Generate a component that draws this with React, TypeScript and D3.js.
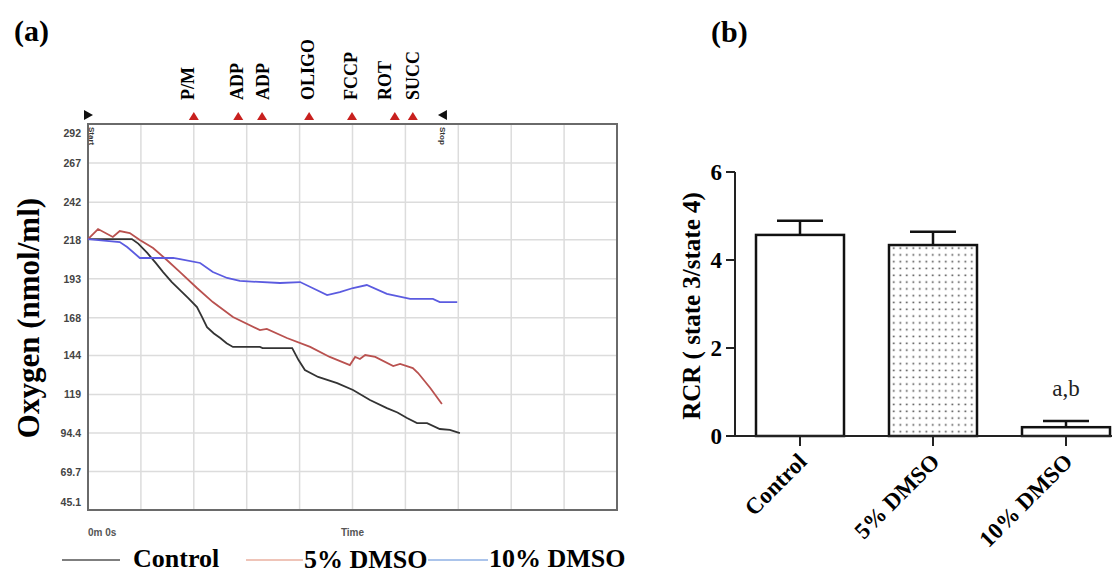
import * as d3 from "d3";

// ---- panel (a): oxygen trace data [time in grid units, nmol/ml] ----
const controlTrace: [number, number][] = [
  [0, 218.4], [0.83, 218.4], [0.95, 215.5], [1.12, 209.5], [1.28, 203.2], [1.42, 197.3],
  [1.58, 191.0], [1.74, 185.8], [1.9, 180.5], [2.06, 174.9], [2.15, 169.0], [2.25, 162.1],
  [2.38, 158.0], [2.5, 155.1], [2.62, 151.8], [2.74, 149.4], [3.25, 149.4], [3.3, 148.7],
  [3.86, 148.7], [3.98, 141.0], [4.1, 134.6], [4.35, 130.2], [4.71, 126.3], [5.01, 121.9],
  [5.33, 115.5], [5.65, 110.3], [5.85, 107.5], [6.03, 103.9], [6.22, 100.7], [6.41, 100.7],
  [6.65, 96.9], [6.84, 96.3], [7.03, 94.3],
];
const dmso5Trace: [number, number][] = [
  [0, 218.4], [0.19, 224.8], [0.47, 219.7], [0.6, 223.5], [0.79, 222.2], [0.98, 217.8],
  [1.23, 212.7], [1.49, 205.0], [1.74, 197.3], [2.06, 187.1], [2.36, 178.1], [2.74, 168.5],
  [3.25, 160.2], [3.38, 160.9], [3.76, 155.1], [4.2, 149.4], [4.57, 143.0], [4.95, 137.8],
  [5.05, 143.0], [5.14, 141.7], [5.24, 144.2], [5.43, 143.0], [5.77, 137.2], [5.9, 138.5],
  [6.14, 135.9], [6.24, 132.7], [6.47, 123.1], [6.69, 112.9],
];
const dmso10Trace: [number, number][] = [
  [0, 218.4], [0.6, 216.5], [0.74, 213.3], [0.98, 206.3], [1.61, 206.3], [1.74, 205.6],
  [2.12, 203.1], [2.36, 197.3], [2.63, 193.5], [2.87, 191.6], [3.63, 190.3], [4.01, 190.9],
  [4.52, 182.6], [4.76, 184.5], [5.01, 187.1], [5.27, 189.0], [5.65, 183.3], [6.09, 180.1],
  [6.52, 180.1], [6.65, 178.1], [6.98, 178.1],
];
const oxygenTicks = [292, 267, 242, 218, 193, 168, 144, 119, 94.4, 69.7, 45.1];
const injectionNames = ["P/M", "ADP", "ADP", "OLIGO", "FCCP", "ROT", "SUCC"];
const injectionTimes = [2.0, 2.84, 3.29, 4.18, 4.99, 5.8, 6.14];
const injectionLabelTimes = [1.89, 2.82, 3.31, 4.16, 4.97, 5.61, 6.14];
const startTime = 0;
const stopTime = 6.71;
const legendNames = ["Control", "5% DMSO", "10% DMSO"];

// ---- panel (b): respiratory control ratio ----
const groups = ["Control", "5% DMSO", "10% DMSO"];
const rcrMean = [4.57, 4.34, 0.2];
const rcrSem = [0.32, 0.3, 0.14];
const rcrTicks = [0, 2, 4, 6];

const serif = "'Liberation Serif', 'DejaVu Serif', serif";
const sans = "'Liberation Sans', Arial, sans-serif";

const left = 88;
const right = 617;
const top = 124;
const bottom = 510;

export default function App() {
  const x = d3.scaleLinear().domain([0, 10]).range([left, right]);
  const y = d3.scaleLinear().domain([45.1, 292]).range([bottom, top]);
  const line = d3
    .line<[number, number]>()
    .x((d) => x(d[0]))
    .y((d) => y(d[1]));

  const traces = [
    { data: controlTrace, color: "#333333", legend: "#555555" },
    { data: dmso5Trace, color: "#b9514f", legend: "#eab0a0" },
    { data: dmso10Trace, color: "#5b5be0", legend: "#8fb0e4" },
  ];

  // bar chart scales
  const bx = d3.scalePoint<string>().domain(groups).range([800, 1066]);
  const by = d3.scaleLinear().domain([0, 6]).range([436, 172]);
  const barW = 88;

  const tri = (cx: number, cy: number, dir: string) => {
    if (dir === "up") return `M${cx - 5},${cy + 4}L${cx + 5},${cy + 4}L${cx},${cy - 4}Z`;
    if (dir === "right") return `M${cx - 4},${cy - 5}L${cx - 4},${cy + 5}L${cx + 5},${cy}Z`;
    return `M${cx + 4},${cy - 5}L${cx + 4},${cy + 5}L${cx - 5},${cy}Z`;
  };

  return (
    <svg
      width={1120}
      height={575}
      viewBox="0 0 1120 575"
      style={{ position: "absolute", left: 0, top: 0, background: "#fff" }}
    >
      <defs>
        <pattern id="dots" width={6.5} height={6.8} patternUnits="userSpaceOnUse">
          <rect x={2.5} y={2.5} width={1.6} height={1.6} fill="#444" />
        </pattern>
      </defs>

      {/* ---------- panel (a) ---------- */}
      <text x={14} y={41} fontFamily={serif} fontWeight="bold" fontSize={30}>
        (a)
      </text>

      {/* grid */}
      <g stroke="#dcdcdc" strokeWidth={1.5}>
        {d3.range(1, 10).map((i) => (
          <line key={"v" + i} x1={x(i)} x2={x(i)} y1={top} y2={bottom} />
        ))}
        {oxygenTicks.slice(1, -1).map((t) => (
          <line key={"h" + t} x1={left} x2={right} y1={y(t)} y2={y(t)} />
        ))}
      </g>
      <rect
        x={left}
        y={top}
        width={right - left}
        height={bottom - top}
        fill="none"
        stroke="#6a6a6a"
        strokeWidth={2}
      />

      {/* y tick labels */}
      <g fontFamily={sans} fontWeight="bold" fontSize={10.5} fill="#444" textAnchor="end">
        {oxygenTicks.map((t, i) => {
          let yy = y(t) + 4;
          if (i === 0) yy = top + 13;
          if (i === oxygenTicks.length - 1) yy = bottom - 4;
          return (
            <text key={t} x={81} y={yy}>
              {t}
            </text>
          );
        })}
      </g>
      <text
        transform={`translate(39,${(top + bottom) / 2 + 1}) rotate(-90)`}
        textAnchor="middle"
        fontFamily={serif}
        fontWeight="bold"
        fontSize={31}
      >
        Oxygen (nmol/ml)
      </text>
      <text x={left} y={536} fontFamily={sans} fontWeight="bold" fontSize={10} fill="#555">
        0m 0s
      </text>
      <text x={x(5)} y={536} fontFamily={sans} fontWeight="bold" fontSize={10} fill="#555" textAnchor="middle">
        Time
      </text>

      {/* traces */}
      {traces.map((tr, i) => (
        <path key={i} d={line(tr.data) || ""} fill="none" stroke={tr.color} strokeWidth={1.8} />
      ))}

      {/* injection markers */}
      <path d={tri(x(startTime), 115, "right")} fill="#111" />
      <path d={tri(x(stopTime), 115, "left")} fill="#111" />
      <text
        transform={`translate(${x(startTime) + 1},127) rotate(90)`}
        fontFamily={sans}
        fontWeight="bold"
        fontSize={8}
        fill="#333"
      >
        Start
      </text>
      <text
        transform={`translate(${x(stopTime) - 3},127) rotate(90)`}
        fontFamily={sans}
        fontWeight="bold"
        fontSize={8}
        fill="#333"
      >
        Stop
      </text>
      {injectionTimes.map((t, i) => (
        <path key={"tri" + i} d={tri(x(t), 116, "up")} fill="#c8201e" />
      ))}
      {injectionNames.map((n, i) => (
        <text
          key={"lab" + i}
          transform={`translate(${x(injectionLabelTimes[i]) + 6},100) rotate(-90)`}
          fontFamily={serif}
          fontWeight="bold"
          fontSize={18}
        >
          {n}
        </text>
      ))}

      {/* legend */}
      <g fontFamily={serif} fontWeight="bold" fontSize={26}>
        <line x1={62} x2={120} y1={560} y2={560} stroke={traces[0].legend} strokeWidth={1.5} />
        <text x={133} y={567}>
          {legendNames[0]}
        </text>
        <line x1={246} x2={303} y1={560} y2={560} stroke={traces[1].legend} strokeWidth={1.5} />
        <text x={304} y={568}>
          {legendNames[1]}
        </text>
        <line x1={428} x2={488} y1={560} y2={560} stroke={traces[2].legend} strokeWidth={1.5} />
        <text x={489} y={567}>
          {legendNames[2]}
        </text>
      </g>

      {/* ---------- panel (b) ---------- */}
      <text x={711} y={42} fontFamily={serif} fontWeight="bold" fontSize={30}>
        (b)
      </text>

      {groups.map((g, i) => {
        const cx = bx(g) as number;
        return (
          <g key={g}>
            <line x1={cx} x2={cx} y1={by(rcrMean[i])} y2={by(rcrMean[i] + rcrSem[i])} stroke="#111" strokeWidth={2.5} />
            <line
              x1={cx - 23}
              x2={cx + 23}
              y1={by(rcrMean[i] + rcrSem[i])}
              y2={by(rcrMean[i] + rcrSem[i])}
              stroke="#111"
              strokeWidth={2.5}
            />
            <rect
              x={cx - barW / 2}
              y={by(rcrMean[i])}
              width={barW}
              height={by(0) - by(rcrMean[i])}
              fill={i === 1 ? "url(#dots)" : "#fff"}
              stroke="#111"
              strokeWidth={2.5}
            />
            <line x1={cx} x2={cx} y1={by(0)} y2={by(0) + 10} stroke="#222" strokeWidth={2} />
            <text
              transform={`translate(${cx + 8},463) rotate(-45)`}
              textAnchor="end"
              fontFamily={serif}
              fontWeight="bold"
              fontSize={23}
            >
              {g}
            </text>
          </g>
        );
      })}

      {/* y axis (b) */}
      <line x1={735} x2={735} y1={by(6)} y2={by(0)} stroke="#222" strokeWidth={2} />
      <line x1={735} x2={1112} y1={by(0)} y2={by(0)} stroke="#222" strokeWidth={2} />
      {rcrTicks.map((t) => (
        <g key={t}>
          <line x1={726} x2={735} y1={by(t)} y2={by(t)} stroke="#222" strokeWidth={2} />
          <text
            x={722}
            y={by(t) + 8}
            textAnchor="end"
            fontFamily={serif}
            fontWeight="bold"
            fontSize={23}
          >
            {t}
          </text>
        </g>
      ))}
      <text
        transform={`translate(700,${(by(6) + by(0)) / 2 + 2}) rotate(-90)`}
        textAnchor="middle"
        fontFamily={serif}
        fontWeight="bold"
        fontSize={25}
      >
        RCR ( state 3/state 4)
      </text>
      <text
        x={bx("10% DMSO") as number}
        y={396}
        textAnchor="middle"
        fontFamily={serif}
        fontSize={23}
        fill="#222"
      >
        a,b
      </text>
    </svg>
  );
}
